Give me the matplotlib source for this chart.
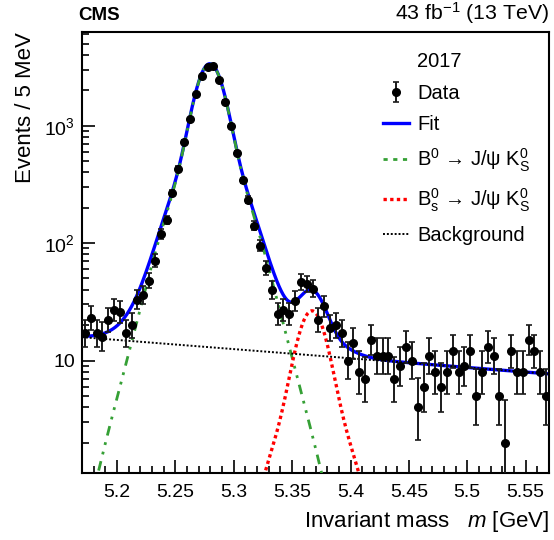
import math
import numpy as np
import matplotlib
matplotlib.use("Agg")
import matplotlib.pyplot as plt
from matplotlib.lines import Line2D
from matplotlib.ticker import FixedLocator, FixedFormatter, LogLocator, NullFormatter, MultipleLocator

plt.rcParams['font.family'] = ['Liberation Sans', 'DejaVu Sans']
plt.rcParams['mathtext.fontset'] = 'custom'
plt.rcParams['mathtext.rm'] = 'Liberation Sans'
plt.rcParams['mathtext.it'] = 'Liberation Sans:italic'
plt.rcParams['mathtext.bf'] = 'Liberation Sans:bold'

# ---- data (events per 5 MeV bin), 80 bins from 5.17 to 5.57 GeV ----
bin_lo = 5.17
bin_width = 0.005
counts = [17, 23, 17, 16, 22, 27, 26, 17, 20, 33, 36, 48,
          71, 119, 158, 267, 430, 721, 1132, 1849, 2669, 3164, 3205, 2433,
          1603, 994, 589, 342, 234, 140, 95, 61,
          40, 25, 27, 25, 32, 47, 45, 41, 22, 29, 19, 20, 17,
          10, 14, 8, 7, 15, 11, 11, 11, 7, 9, 13, 10, 4, 6, 11, 8, 6, 8, 12,
          8, 9, 12, 5, 8, 13, 11, 5, 2, 12, 8, 8, 15, 12, 8, 5]

# ---- fit model parameters ----
b0_mean = 5.2795
bs_mean = 5.3669
sig_amps = [2665.0, 600.0, 95.0]      # triple-Gaussian amplitudes (events / 5 MeV)
sig_widths = [0.0102, 0.021, 0.032]   # GeV
bs_scale = 26.5 / 3360.0
bkg_at_lo = 15.8
bkg_slope = -1.8

x_ticks = [5.2, 5.25, 5.3, 5.35, 5.4, 5.45, 5.5, 5.55]
y_ticks = [10, 100, 1000]
y_ticklabels = ["10", "10$^{2}$", "10$^{3}$"]

GREEN = '#35a035'
GREEN_DASH = (3.5, 2.5, 1, 2.5, 1, 2.5)


def shape(m, mean):
    out = np.zeros_like(m)
    for a, s in zip(sig_amps, sig_widths):
        out += a * np.exp(-0.5 * ((m - mean) / s) ** 2)
    return out


def pois_cdf(n, mu):
    if mu <= 0:
        return 1.0
    lm = math.log(mu)
    terms = [-mu + k * lm - math.lgamma(k + 1) for k in range(n + 1)]
    mx = max(terms)
    return min(1.0, math.exp(mx) * sum(math.exp(t - mx) for t in terms))


def solve(f, target, lo, hi):
    for _ in range(80):
        mid = 0.5 * (lo + hi)
        if f(mid) > target:
            lo = mid
        else:
            hi = mid
    return 0.5 * (lo + hi)


def poisson_interval(n, cl=0.682689):
    alpha = (1 - cl) / 2
    hi_lim = n + 10 * math.sqrt(n + 1) + 10
    up = solve(lambda mu: pois_cdf(n, mu), alpha, 0.0, hi_lim)
    lo = 0.0 if n == 0 else solve(lambda mu: pois_cdf(n - 1, mu), 1 - alpha, 0.0, hi_lim)
    return lo, up


counts_arr = np.array(counts, dtype=float)
centers = bin_lo + bin_width * (np.arange(len(counts)) + 0.5)
err_lo, err_hi = [], []
for n in counts:
    lo, up = poisson_interval(n)
    err_lo.append(n - lo)
    err_hi.append(up - n)

m = np.linspace(bin_lo, bin_lo + bin_width * len(counts), 1200)
b0 = shape(m, b0_mean)
bs = bs_scale * shape(m, bs_mean)
bkg = bkg_at_lo * np.exp(bkg_slope * (m - bin_lo))
total = b0 + bs + bkg

fig = plt.figure(figsize=(5.54, 5.40), dpi=100)
ax = fig.add_axes([0.148, 0.124, 0.843, 0.817])

ax.plot(m, total, color='#0000ff', lw=2.4, zorder=2)
ax.plot(m, b0, color=GREEN, lw=2.0, dashes=GREEN_DASH, zorder=3)
ax.plot(m, bs, color='#ff0000', lw=2.4, dashes=(1, 1), zorder=3)
ax.plot(m, bkg, color='black', lw=1.4, dashes=(1, 1), zorder=3)
data_h = ax.errorbar(centers, counts_arr, yerr=[err_lo, err_hi], fmt='o', color='black',
                     ecolor='#1a1a1a', elinewidth=1.4, capsize=2.3, capthick=1.2,
                     ms=5.5, zorder=4)

ax.set_yscale('log')
ax.set_xlim(5.17, 5.57)
ax.set_ylim(1.1, 6300)

ax.xaxis.set_major_locator(FixedLocator(x_ticks))
ax.xaxis.set_major_formatter(FixedFormatter([f"{v:g}" for v in x_ticks]))
ax.xaxis.set_minor_locator(MultipleLocator(0.01))
ax.yaxis.set_major_locator(FixedLocator(y_ticks))
ax.yaxis.set_major_formatter(FixedFormatter(y_ticklabels))
ax.yaxis.set_minor_locator(LogLocator(base=10, subs=np.arange(2, 10)))
ax.yaxis.set_minor_formatter(NullFormatter())

ax.tick_params(which='both', direction='in', top=False, right=False, labelsize=14)
ax.tick_params(which='major', length=9.5, width=1.2)
ax.tick_params(which='minor', length=5, width=1.2)
ax.tick_params(axis='x', which='major', pad=8)
ax.tick_params(axis='y', which='major', pad=5)
for s in ax.spines.values():
    s.set_linewidth(1.5)

ax.set_xlabel("Invariant mass   $m$ [GeV]", fontsize=16, loc='right', labelpad=6)
ax.set_ylabel("Events / 5 MeV", fontsize=16, loc='top', labelpad=6)

fig.text(0.141, 0.963, "CMS", fontsize=13.5, fontweight='bold', ha='left', va='baseline')
fig.text(0.991, 0.963, "43 fb$^{-1}$ (13 TeV)", fontsize=15.3, ha='right', va='baseline')

handles = [
    Line2D([], [], linestyle='none', marker=None),
    data_h,
    Line2D([], [], color='#0000ff', lw=2.4),
    Line2D([], [], color=GREEN, lw=2.0, dashes=(1.5, 2, 1.5, 2, 1.5, 2)),
    Line2D([], [], color='#ff0000', lw=2.4, dashes=(1, 1)),
    Line2D([], [], color='black', lw=1.4, dashes=(1, 1)),
]
labels = ["2017", "Data", "Fit",
          "B$^{0}$ → J/ψ K$^{0}_{\\mathrm{S}}$",
          "B$^{0}_{\\mathrm{s}}$ → J/ψ K$^{0}_{\\mathrm{S}}$",
          "Background"]
leg = ax.legend(handles, labels, loc='upper left', bbox_to_anchor=(0.605, 0.995),
                frameon=False, fontsize=14.5, handlelength=1.3, handletextpad=0.4,
                labelspacing=0.62)

fig.savefig("out.png", dpi=100)
